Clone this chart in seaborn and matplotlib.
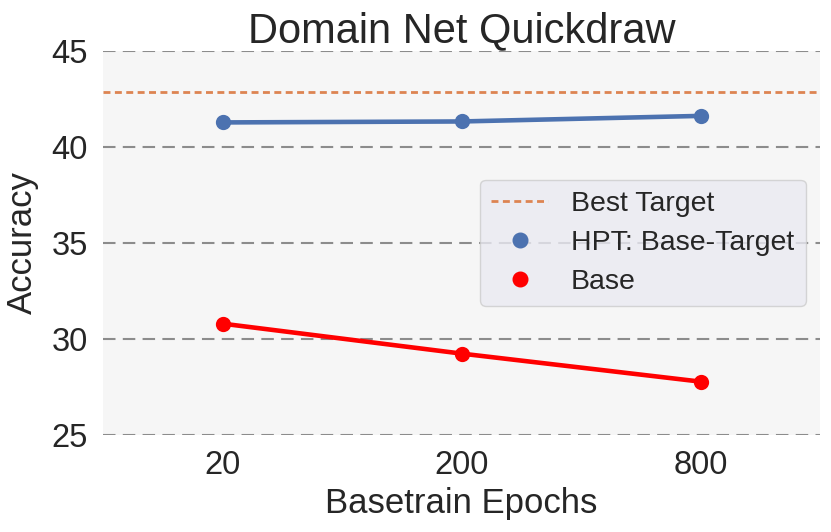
import matplotlib
matplotlib.use("Agg")
import matplotlib.pyplot as plt
from matplotlib.lines import Line2D
import seaborn as sns
import pandas as pd

epochs = ["20", "200", "800"]
hpt_base_target = [41.28, 41.33, 41.62]
base = [30.80, 29.24, 27.78]
best_target = 42.87

sns.set_theme(style="darkgrid")
plt.rcParams['font.family'] = ['Liberation Sans', 'DejaVu Sans']

df_hpt = pd.DataFrame({"epochs": epochs, "acc": hpt_base_target})
df_base = pd.DataFrame({"epochs": epochs, "acc": base})

fig = plt.figure(figsize=(8.31, 5.32), dpi=100)
ax = fig.add_axes([103/831, 1-435/532, (820-103)/831, (435-51)/532])
ax.set_facecolor("#f6f6f6")

sns.pointplot(data=df_hpt, x="epochs", y="acc", order=epochs, color="#4c72b0",
              markersize=8.5, linewidth=3.3, ax=ax)
sns.pointplot(data=df_base, x="epochs", y="acc", order=epochs, color="red",
              markersize=8.5, linewidth=3.3, ax=ax)
ax.axhline(best_target, color="#dd8452", lw=2, dashes=(2.5, 1.6), zorder=1)

ax.set_ylim(25, 45)
ax.set_xlim(-0.5, 2.5)
ax.set_yticks([25, 30, 35, 40, 45])
ax.grid(False)
ax.yaxis.grid(True, color="#8c8c8c", lw=1.5, linestyle=(0, (6, 3.5)))
ax.set_axisbelow(True)
for s in ax.spines.values():
    s.set_visible(False)
ax.tick_params(axis="both", labelsize=23.5, length=0, pad=11, colors="#262626")
ax.set_xlabel("Basetrain Epochs", fontsize=25, color="#262626", labelpad=4)
ax.set_ylabel("Accuracy", fontsize=25, color="#262626", labelpad=9)
ax.set_title("Domain Net Quickdraw", fontsize=30, color="#262626", pad=6)

handles = [
    Line2D([0], [0], color="#dd8452", lw=2, dashes=(2.5, 1.6)),
    Line2D([0], [0], color="#4c72b0", marker="o", lw=0, markersize=10.5),
    Line2D([0], [0], color="red", marker="o", lw=0, markersize=10.5),
]
leg = ax.legend(handles, ["Best Target", "HPT: Base-Target", "Base"],
                loc="upper right", bbox_to_anchor=(0.98, 0.665), borderaxespad=0,
                fontsize=20.5, facecolor="#eaeaf2", edgecolor="#cccccc",
                framealpha=0.8, handlelength=2.0, labelspacing=0.45)
for t in leg.get_texts():
    t.set_color("#262626")

fig.savefig("out.png", dpi=100)
